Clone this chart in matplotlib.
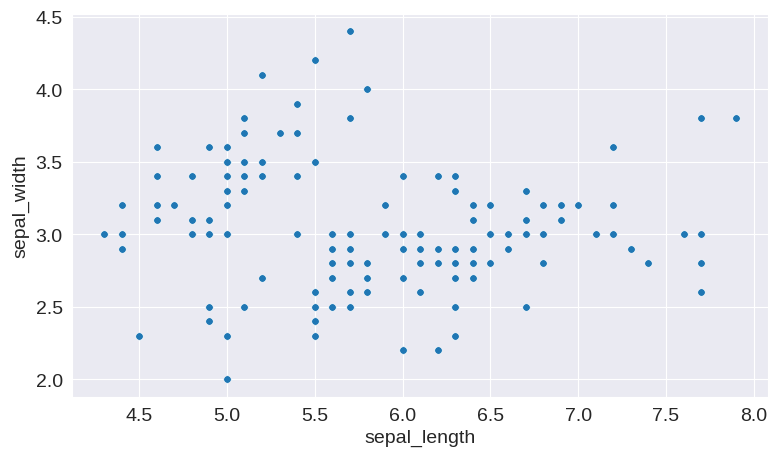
import matplotlib
matplotlib.use("Agg")
import matplotlib.pyplot as plt
import seaborn as sns
import pandas as pd

# iris sepal measurements (setosa, versicolor, virginica)
sepal_length = [
    5.1, 4.9, 4.7, 4.6, 5.0, 5.4, 4.6, 5.0, 4.4, 4.9, 5.4, 4.8, 4.8, 4.3, 5.8, 5.7, 5.4, 5.1, 5.7, 5.1,
    5.4, 5.1, 4.6, 5.1, 4.8, 5.0, 5.0, 5.2, 5.2, 4.7, 4.8, 5.4, 5.2, 5.5, 4.9, 5.0, 5.5, 4.9, 4.4, 5.1,
    5.0, 4.5, 4.4, 5.0, 5.1, 4.8, 5.1, 4.6, 5.3, 5.0,
    7.0, 6.4, 6.9, 5.5, 6.5, 5.7, 6.3, 4.9, 6.6, 5.2, 5.0, 5.9, 6.0, 6.1, 5.6, 6.7, 5.6, 5.8, 6.2, 5.6,
    5.9, 6.1, 6.3, 6.1, 6.4, 6.6, 6.8, 6.7, 6.0, 5.7, 5.5, 5.5, 5.8, 6.0, 5.4, 6.0, 6.7, 6.3, 5.6, 5.5,
    5.5, 6.1, 5.8, 5.0, 5.6, 5.7, 5.7, 6.2, 5.1, 5.7,
    6.3, 5.8, 7.1, 6.3, 6.5, 7.6, 4.9, 7.3, 6.7, 7.2, 6.5, 6.4, 6.8, 5.7, 5.8, 6.4, 6.5, 7.7, 7.7, 6.0,
    6.9, 5.6, 7.7, 6.3, 6.7, 7.2, 6.2, 6.1, 6.4, 7.2, 7.4, 7.9, 6.4, 6.3, 6.1, 7.7, 6.3, 6.4, 6.0, 6.9,
    6.7, 6.9, 5.8, 6.8, 6.7, 6.7, 6.3, 6.5, 6.2, 5.9,
]
sepal_width = [
    3.5, 3.0, 3.2, 3.1, 3.6, 3.9, 3.4, 3.4, 2.9, 3.1, 3.7, 3.4, 3.0, 3.0, 4.0, 4.4, 3.9, 3.5, 3.8, 3.8,
    3.4, 3.7, 3.6, 3.3, 3.4, 3.0, 3.4, 3.5, 3.4, 3.2, 3.1, 3.4, 4.1, 4.2, 3.1, 3.2, 3.5, 3.6, 3.0, 3.4,
    3.5, 2.3, 3.2, 3.5, 3.8, 3.0, 3.8, 3.2, 3.7, 3.3,
    3.2, 3.2, 3.1, 2.3, 2.8, 2.8, 3.3, 2.4, 2.9, 2.7, 2.0, 3.0, 2.2, 2.9, 2.9, 3.1, 3.0, 2.7, 2.2, 2.5,
    3.2, 2.8, 2.5, 2.8, 2.9, 3.0, 2.8, 3.0, 2.9, 2.6, 2.4, 2.4, 2.7, 2.7, 3.0, 3.4, 3.1, 2.3, 3.0, 2.5,
    2.6, 3.0, 2.6, 2.3, 2.7, 3.0, 2.9, 2.9, 2.5, 2.8,
    3.3, 2.7, 3.0, 2.9, 3.0, 3.0, 2.5, 2.9, 2.5, 3.6, 3.2, 2.7, 3.0, 2.5, 2.8, 3.2, 3.0, 3.8, 2.6, 2.2,
    3.2, 2.8, 2.8, 2.7, 3.3, 3.2, 2.8, 3.0, 2.8, 3.0, 2.8, 3.8, 2.8, 2.8, 2.6, 3.0, 3.4, 3.1, 3.0, 3.1,
    3.1, 3.1, 2.7, 3.2, 3.3, 3.0, 2.5, 3.0, 3.4, 3.0,
]

df = pd.DataFrame({"sepal_length": sepal_length, "sepal_width": sepal_width})

sns.set_style("darkgrid")
plt.rcParams["font.family"] = ["Liberation Sans", "DejaVu Sans"]
fig, ax = plt.subplots(figsize=(7.78, 4.6), dpi=100)
sns.scatterplot(data=df, x="sepal_length", y="sepal_width", ax=ax,
                color="#1f77b4", s=30, edgecolor="white", linewidth=0.5)
ax.tick_params(labelsize=14, colors="#262626")
ax.xaxis.label.set_size(14)
ax.yaxis.label.set_size(14)
fig.subplots_adjust(left=0.093, right=0.987, top=0.968, bottom=0.135)
fig.savefig("out.png")
